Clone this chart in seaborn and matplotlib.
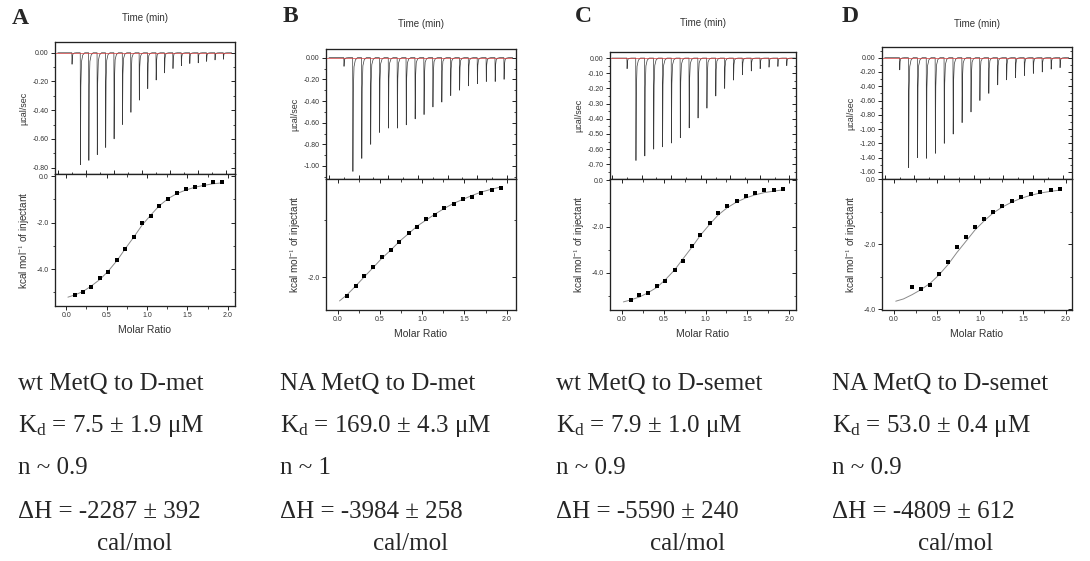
import matplotlib

matplotlib.use("Agg")
import matplotlib.pyplot as plt
import pandas as pd
import seaborn as sns
from matplotlib.ticker import FormatStrFormatter, MultipleLocator, NullFormatter

W, H = 1090, 561

# injection times (min), shared by all four runs
INJECTION_TIMES = [5, 8, 11, 14, 17, 20, 23, 26, 29, 32, 35, 38, 41, 44, 47, 50, 53, 56, 59]
MOLAR_RATIO = [0.11, 0.21, 0.31, 0.42, 0.52, 0.63, 0.73, 0.84, 0.94, 1.05,
               1.15, 1.26, 1.37, 1.48, 1.59, 1.70, 1.82, 1.93]
FIT_RATIO = [0.02] + MOLAR_RATIO

# raw peak depths (ucal/sec)
A_PEAKS = [-0.08, -0.78, -0.75, -0.71, -0.66, -0.60, -0.50, -0.415, -0.33, -0.25,
           -0.19, -0.14, -0.11, -0.09, -0.075, -0.07, -0.06, -0.05, -0.045]
B_PEAKS = [-0.08, -1.05, -0.93, -0.80, -0.69, -0.65, -0.65, -0.62, -0.565, -0.525,
           -0.455, -0.41, -0.35, -0.30, -0.26, -0.24, -0.22, -0.22, -0.20]
C_PEAKS = [-0.07, -0.675, -0.645, -0.60, -0.585, -0.56, -0.525, -0.46, -0.395, -0.33,
           -0.25, -0.20, -0.145, -0.11, -0.085, -0.07, -0.06, -0.055, -0.05]
D_PEAKS = [-0.17, -1.54, -1.40, -1.41, -1.34, -1.20, -1.07, -0.91, -0.76, -0.60,
           -0.50, -0.38, -0.31, -0.28, -0.25, -0.22, -0.20, -0.16, -0.14]

# integrated heats (kcal/mol of injectant)
A_HEAT = [-5.10, -5.00, -4.75, -4.39, -4.10, -3.62, -3.13, -2.63, -2.02, -1.72,
          -1.29, -0.97, -0.72, -0.56, -0.46, -0.39, -0.26, -0.27]
B_HEAT = [-2.33, -2.15, -1.98, -1.82, -1.64, -1.52, -1.38, -1.22, -1.12, -0.98,
          -0.91, -0.78, -0.71, -0.62, -0.58, -0.51, -0.46, -0.42]
C_HEAT = [-5.18, -4.94, -4.88, -4.58, -4.35, -3.88, -3.47, -2.86, -2.38, -1.86,
          -1.42, -1.13, -0.88, -0.68, -0.53, -0.43, -0.43, -0.38]
D_HEAT = [-3.32, -3.39, -3.24, -2.90, -2.54, -2.10, -1.79, -1.47, -1.22, -1.02,
          -0.83, -0.68, -0.56, -0.47, -0.40, -0.35, -0.32]

# fitted curves, read at FIT_RATIO
A_FIT = [-5.20, -5.10, -4.95, -4.72, -4.43, -4.08, -3.62, -3.12, -2.60, -2.10, -1.66,
         -1.28, -0.97, -0.75, -0.60, -0.48, -0.40, -0.33, -0.29]
B_FIT = [-2.42, -2.31, -2.16, -2.00, -1.83, -1.67, -1.52, -1.37, -1.23, -1.10, -0.99,
         -0.89, -0.79, -0.70, -0.63, -0.56, -0.50, -0.45, -0.41]
C_FIT = [-5.26, -5.17, -5.05, -4.87, -4.63, -4.30, -3.88, -3.40, -2.88, -2.37, -1.90,
         -1.50, -1.18, -0.94, -0.76, -0.63, -0.53, -0.46, -0.41]
D_FIT = [-3.75, -3.68, -3.55, -3.40, -3.20, -2.95, -2.62, -2.26, -1.90, -1.57, -1.28,
         -1.05, -0.86, -0.71, -0.59, -0.50, -0.43, -0.38, -0.34]

PANEL_LETTERS = ["A", "B", "C", "D"]
TITLES = ["wt MetQ to D-met", "NA MetQ to D-met", "wt MetQ to D-semet", "NA MetQ to D-semet"]
KD_TEXT = ["7.5 ± 1.9", "169.0 ± 4.3", "7.9 ± 1.0", "53.0 ± 0.4"]
N_TEXT = ["0.9", "1", "0.9", "0.9"]
DH_TEXT = ["-2287 ± 392", "-3984 ± 258", "-5590 ± 240", "-4809 ± 612"]

SANS = "Liberation Sans"
SERIF = "Liberation Serif"
BIG = 18


def spike_trace(peaks):
    # each injection: needle-like drop and a fast return to baseline
    times, values = [0.0], [0.0]
    for t, p in zip(INJECTION_TIMES, peaks):
        for dt, frac in [(0.0, 0.0), (0.08, 1.0), (0.22, 0.3), (0.45, 0.08), (0.9, 0.02), (1.6, 0.0)]:
            times.append(t + dt)
            values.append(p * frac)
    times.append(62.0)
    values.append(0.0)
    return pd.DataFrame({"time": times, "power": values})


def add_frame(fig, l, t, r, b):
    return fig.add_axes([l / W, 1 - b / H, (r - l) / W, (b - t) / H])


def style_spines(ax):
    for spine in ax.spines.values():
        spine.set_visible(True)
        spine.set_linewidth(0.8)
        spine.set_color("#222222")


def tick_sizes(ax):
    ax.tick_params(which="major", length=3, width=0.7)
    ax.tick_params(which="minor", length=1.8, width=0.6)


def mirror_ticks(ax, axis):
    # inward ticks on the opposite side, outward ticks on the labelled side
    if axis == "y":
        tw = ax.twinx()
        tw.set_ylim(ax.get_ylim())
        tw.yaxis.set_major_locator(ax.yaxis.get_major_locator())
        tw.yaxis.set_minor_locator(ax.yaxis.get_minor_locator())
        tw.tick_params(which="both", direction="in", labelright=False, color="#222222")
    else:
        tw = ax.twiny()
        tw.set_xlim(ax.get_xlim())
        tw.xaxis.set_major_locator(ax.xaxis.get_major_locator())
        tw.xaxis.set_minor_locator(ax.xaxis.get_minor_locator())
        tw.tick_params(which="both", direction="in", labeltop=False, labelbottom=False, color="#222222")
    tick_sizes(tw)
    style_spines(tw)
    return tw


def draw_raw(fig, box, peaks, xlim, ylim, ystep, title_y):
    ax = add_frame(fig, *box)
    trace = spike_trace(peaks)
    sns.lineplot(data=trace, x="time", y="power", ax=ax, color="#3a3a3a", linewidth=0.5,
                 sort=False, estimator=None)
    ax.axhline(0, color="#d23a3a", linewidth=0.5, zorder=3)
    ax.set_xlim(*xlim)
    ax.set_ylim(*ylim)
    ax.xaxis.set_major_locator(MultipleLocator(10))
    ax.xaxis.set_minor_locator(MultipleLocator(5))
    ax.yaxis.set_major_locator(MultipleLocator(ystep))
    ax.yaxis.set_minor_locator(MultipleLocator(ystep / 2))
    ax.yaxis.set_major_formatter(FormatStrFormatter("%.2f"))
    ax.xaxis.tick_top()
    ax.tick_params(which="both", direction="out", color="#222222", labelcolor="#333333",
                   labelsize=5, top=True, bottom=False, labeltop=True, labelbottom=False, pad=1.5)
    tick_sizes(ax)
    ax.set_xlabel("")
    ax.set_ylabel("µcal/sec", fontsize=6.5, family=SANS, color="#333333", labelpad=3)
    l, t, r, b = box
    fig.text((l + r) / 2 / W, 1 - title_y / H, "Time (min)", ha="center", va="center",
             fontsize=7, family=SANS, color="#333333")
    style_spines(ax)
    mirror_ticks(ax, "y")
    tw = ax.twiny()
    tw.set_xlim(*xlim)
    tw.xaxis.set_major_locator(MultipleLocator(10))
    tw.xaxis.set_minor_locator(MultipleLocator(5))
    tw.xaxis.tick_bottom()
    tw.xaxis.set_major_formatter(NullFormatter())
    tw.tick_params(which="both", direction="in", color="#222222")
    tick_sizes(tw)
    style_spines(tw)
    return ax


def draw_heat(fig, box, ratio, heat, fit, xlim, ylim):
    ax = add_frame(fig, *box)
    fit_df = pd.DataFrame({"ratio": FIT_RATIO, "heat": fit})
    pts = pd.DataFrame({"ratio": ratio, "heat": heat})
    sns.lineplot(data=fit_df, x="ratio", y="heat", ax=ax, color="#8a8a8a", linewidth=0.7)
    sns.scatterplot(data=pts, x="ratio", y="heat", ax=ax, marker="s", s=11, color="black",
                    edgecolor="black", linewidth=0, zorder=4)
    ax.set_xlim(*xlim)
    ax.set_ylim(*ylim)
    ax.xaxis.set_major_locator(MultipleLocator(0.5))
    ax.xaxis.set_minor_locator(MultipleLocator(0.25))
    ax.yaxis.set_major_locator(MultipleLocator(2.0))
    ax.yaxis.set_minor_locator(MultipleLocator(1.0))
    ax.xaxis.set_major_formatter(FormatStrFormatter("%.1f"))
    ax.yaxis.set_major_formatter(FormatStrFormatter("%.1f"))
    ax.tick_params(which="both", direction="out", color="#222222", labelcolor="#333333",
                   labelsize=5, pad=1.5)
    tick_sizes(ax)
    ax.set_xlabel("Molar Ratio", fontsize=7.5, family=SANS, color="#333333", labelpad=4)
    ax.set_ylabel("kcal mol$^{-1}$ of injectant", fontsize=7.2, family=SANS, color="#333333",
                  labelpad=3)
    style_spines(ax)
    mirror_ticks(ax, "y")
    mirror_ticks(ax, "x")
    return ax


def main():
    sns.set_theme(style="white")
    plt.rcParams["font.family"] = [SANS, "DejaVu Sans"]
    plt.rcParams["mathtext.fontset"] = "custom"
    plt.rcParams["mathtext.rm"] = SERIF
    plt.rcParams["mathtext.it"] = SERIF + ":italic"

    fig = plt.figure(figsize=(W / 100, H / 100), dpi=100)

    raw_boxes = [(55, 42, 235, 174), (326, 49, 516, 179), (610, 52, 796, 179), (882, 47, 1072, 179)]
    heat_boxes = [(55, 174, 235, 306), (326, 179, 516, 310), (610, 179, 796, 310), (882, 179, 1072, 310)]
    raw_xlims = [(-1.0, 63.2), (-1.0, 63.1), (-0.7, 62.2), (-0.9, 63.1)]
    raw_ylims = [(-0.845, 0.075), (-1.12, 0.08), (-0.797, 0.04), (-1.70, 0.15)]
    raw_steps = [0.2, 0.2, 0.1, 0.2]
    title_ys = [18, 24, 23, 24]
    heat_xlims = [(-0.14, 2.09), (-0.14, 2.11), (-0.14, 2.08), (-0.14, 2.07)]
    heat_ylims = [(-5.58, 0.09), (-2.58, -0.27), (-5.61, 0.06), (-4.02, 0.0)]
    peaks = [A_PEAKS, B_PEAKS, C_PEAKS, D_PEAKS]
    heats = [A_HEAT, B_HEAT, C_HEAT, D_HEAT]
    fits = [A_FIT, B_FIT, C_FIT, D_FIT]
    ratios = [MOLAR_RATIO, MOLAR_RATIO, MOLAR_RATIO, MOLAR_RATIO[1:]]

    letter_pos = [(20, 19), (290, 17), (583, 17), (850, 17)]
    text_x = [18, 280, 556, 832]
    unit_x = [97, 373, 650, 918]
    line_y = [384, 426, 468, 512, 544]

    for i in range(4):
        draw_raw(fig, raw_boxes[i], peaks[i], raw_xlims[i], raw_ylims[i], raw_steps[i], title_ys[i])
        draw_heat(fig, heat_boxes[i], ratios[i], heats[i], fits[i], heat_xlims[i], heat_ylims[i])

        lx, ly = letter_pos[i]
        fig.text(lx / W, 1 - ly / H, PANEL_LETTERS[i], ha="center", va="center", fontsize=17,
                 fontweight="bold", family=SERIF)

        tx = text_x[i] / W
        fig.text(tx, 1 - line_y[0] / H, TITLES[i], ha="left", va="center", fontsize=BIG, family=SERIF)
        fig.text(tx, 1 - line_y[1] / H, f"K$_{{\\rm d}}$ = {KD_TEXT[i]} μM", ha="left", va="center",
                 fontsize=BIG, family=SERIF)
        fig.text(tx, 1 - line_y[2] / H, f"n ~ {N_TEXT[i]}", ha="left", va="center", fontsize=BIG,
                 family=SERIF)
        fig.text(tx, 1 - line_y[3] / H, f"ΔH = {DH_TEXT[i]}", ha="left", va="center", fontsize=BIG,
                 family=SERIF)
        fig.text(unit_x[i] / W, 1 - line_y[4] / H, "cal/mol", ha="left", va="center", fontsize=BIG,
                 family=SERIF)

    fig.savefig("out.png", dpi=100)
    plt.close(fig)


if __name__ == "__main__":
    main()
